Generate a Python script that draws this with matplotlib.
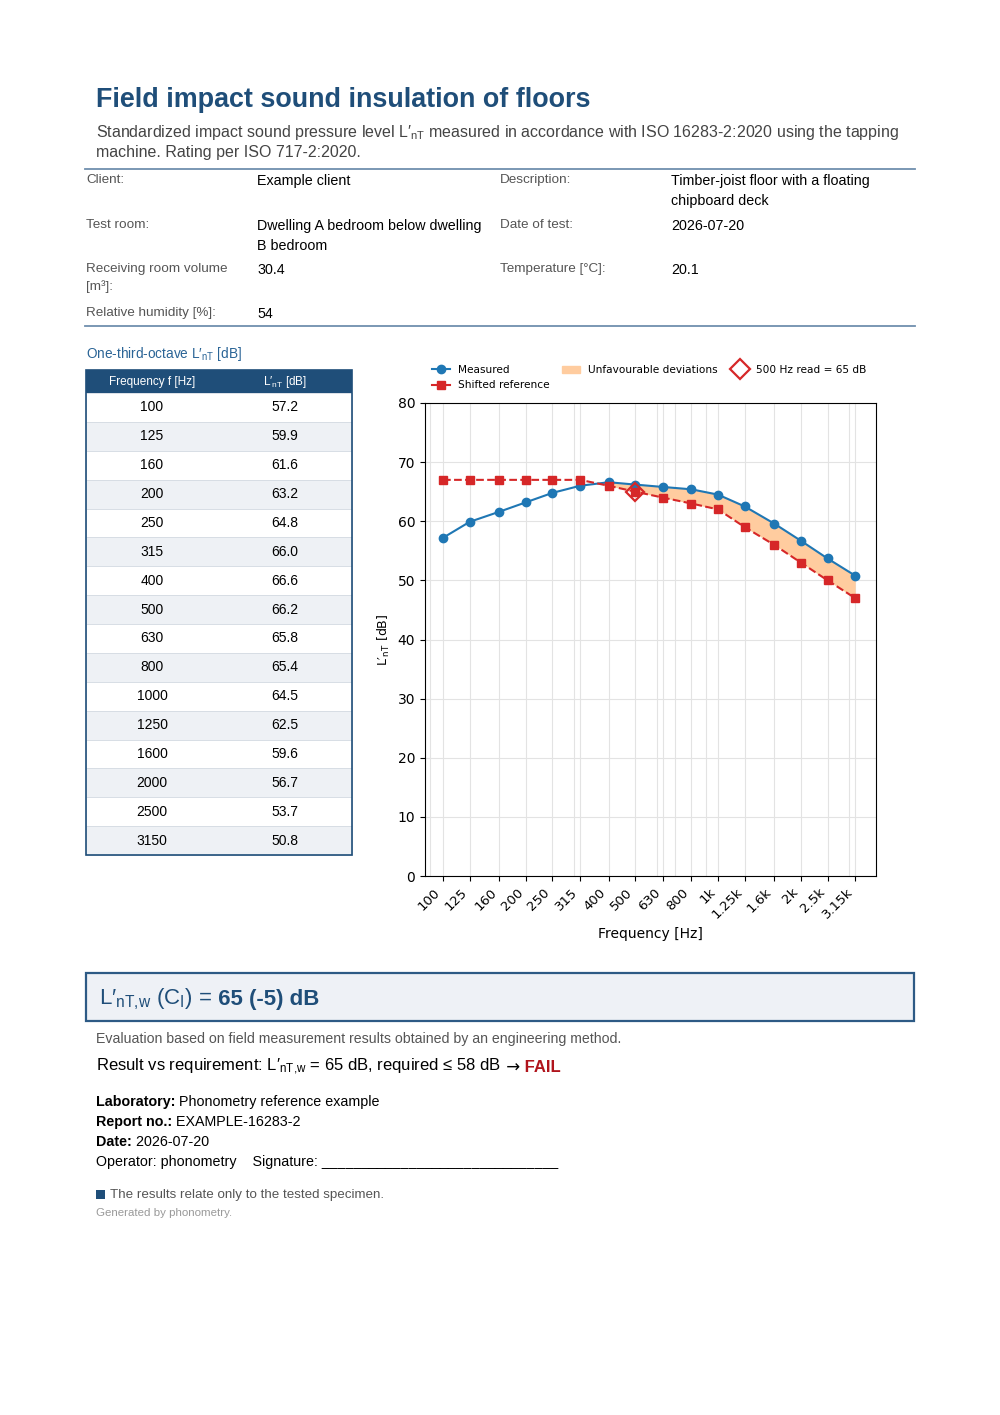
import matplotlib
matplotlib.use("Agg")
import matplotlib.pyplot as plt
from matplotlib.patches import Rectangle
from matplotlib.lines import Line2D
from matplotlib.ticker import NullFormatter

plt.rcParams['mathtext.fontset'] = 'custom'
plt.rcParams['mathtext.rm'] = 'Liberation Sans'
plt.rcParams['mathtext.it'] = 'Liberation Sans:italic'
plt.rcParams['mathtext.bf'] = 'Liberation Sans:bold'

# data
freqs = [100, 125, 160, 200, 250, 315, 400, 500, 630, 800, 1000, 1250, 1600, 2000, 2500, 3150]
freq_labels = ['100', '125', '160', '200', '250', '315', '400', '500', '630', '800',
               '1k', '1.25k', '1.6k', '2k', '2.5k', '3.15k']
measured = [57.2, 59.9, 61.6, 63.2, 64.8, 66.0, 66.6, 66.2, 65.8, 65.4, 64.5, 62.5, 59.6, 56.7, 53.7, 50.8]
shifted_ref = [67, 67, 67, 67, 67, 67, 66, 65, 64, 63, 62, 59, 56, 53, 50, 47]
read_freq = 500
read_value = 65

info_left = [("Client:", "Example client"),
             ("Test room:", "Dwelling A bedroom below dwelling\nB bedroom"),
             ("Receiving room volume\n[m³]:", "30.4"),
             ("Relative humidity [%]:", "54")]
info_right = [("Description:", "Timber-joist floor with a floating\nchipboard deck"),
              ("Date of test:", "2026-07-20"),
              ("Temperature [°C]:", "20.1")]

NAVY = '#1f4e79'
PAGE_FONT = ['Liberation Sans', 'DejaVu Sans']

fig = plt.figure(figsize=(10, 14.15), dpi=100)
page = fig.add_axes([0, 0, 1, 1])
page.set_xlim(0, 1000)
page.set_ylim(1415, 0)
page.axis('off')


def txt(x, y, s, size=10, color='black', weight='normal', **kw):
    fam = kw.pop('family', PAGE_FONT)
    return page.text(x, y, s, fontsize=size, color=color, fontweight=weight,
                     family=fam, va=kw.pop('va', 'center'), **kw)


def chain(x, y, parts, size=10):
    r = fig.canvas.get_renderer()
    for part in parts:
        s, color, weight = part[:3]
        fam = part[3] if len(part) > 3 else PAGE_FONT
        t = txt(x, y, s, size=size, color=color, weight=weight, family=fam)
        x += t.get_window_extent(r).width
    return x


# header
txt(96, 100, "Field impact sound insulation of floors", size=19.4, color=NAVY, weight='bold')
txt(96, 133, "Standardized impact sound pressure level L′$_{\\mathrm{nT}}$ measured in accordance with "
             "ISO 16283-2:2020 using the tapping", size=11.5, color='#444444')
txt(96, 153, "machine. Rating per ISO 717-2:2020.", size=11.5, color='#444444')
page.plot([85, 915], [169, 169], color='#6f8fae', lw=1.3)
page.plot([85, 915], [326, 326], color='#6f8fae', lw=1.3)

row_y = [174, 219, 263, 307]
for (lab, val), y in zip(info_left, row_y):
    txt(86, y, lab, size=9.7, color='#555555', va='top', linespacing=1.55)
    txt(257, y, val, size=10.3, va='top', linespacing=1.5)
for (lab, val), y in zip(info_right, row_y):
    txt(500, y, lab, size=9.7, color='#555555', va='top', linespacing=1.55)
    txt(671, y, val, size=10.3, va='top', linespacing=1.5)

# data table
txt(86, 354, "One-third-octave L′$_{\\mathrm{nT}}$ [dB]", size=9.8, color='#2a6496')
tx0, tx1 = 86, 352
head_top, head_bot = 370, 393
rh = (855 - head_bot) / len(freqs)
page.add_patch(Rectangle((tx0, head_top), tx1 - tx0, head_bot - head_top, color=NAVY, lw=0))
txt(152, 382, "Frequency f [Hz]", size=8.5, color='white', ha='center')
txt(285, 382, "L′$_{\\mathrm{nT}}$ [dB]", size=8.5, color='white', ha='center')
for i, (f, v) in enumerate(zip(freqs, measured)):
    y0 = head_bot + i * rh
    fc = '#eef1f5' if i % 2 else 'white'
    page.add_patch(Rectangle((tx0, y0), tx1 - tx0, rh, facecolor=fc, edgecolor='#d5dbe3', lw=0.6))
    txt(152, y0 + rh / 2, str(f), size=10, ha='center')
    txt(285, y0 + rh / 2, f"{v:.1f}", size=10, ha='center')
page.add_patch(Rectangle((tx0, head_top), tx1 - tx0, 855 - head_top, fill=False, edgecolor=NAVY, lw=1.2))

# chart
ax = fig.add_axes([0.425, 1 - 876 / 1415, 0.451, (876 - 403) / 1415])
ax.set_xscale('log')
ax.fill_between(freqs, shifted_ref, measured, where=[m > r for m, r in zip(measured, shifted_ref)],
                interpolate=True, color='#ffcc9f', lw=0, zorder=1)
ax.plot(freqs, measured, '-o', color='#1f77b4', lw=1.5, ms=6, zorder=3)
ax.plot(freqs, shifted_ref, '--s', color='#d62728', lw=1.5, ms=6, zorder=3)
ax.plot([read_freq], [read_value], 'D', mfc='none', mec='#d62728', mew=1.6, ms=9, zorder=4)
ax.set_xlim(86, 3750)
ax.set_ylim(0, 80)
ax.set_yticks(range(0, 81, 10))
ax.set_xticks(freqs)
ax.set_xticklabels(freq_labels, rotation=45, ha='right', fontsize=9.5)
ax.xaxis.set_minor_formatter(NullFormatter())
ax.tick_params(axis='x', which='minor', length=0)
ax.tick_params(axis='y', labelsize=10)
ax.grid(True, which='both', color='#e3e3e3', lw=0.8)
ax.set_axisbelow(True)
ax.set_xlabel("Frequency [Hz]", fontsize=10)
ax.set_ylabel("L′$_{\\mathrm{nT}}$ [dB]", fontsize=9, math_fontfamily='dejavusans')

handles = [Line2D([], [], color='#1f77b4', marker='o', lw=1.5, ms=6),
           Line2D([], [], color='#d62728', marker='s', lw=1.5, ms=6),
           Rectangle((0, 0), 1, 1, color='#ffcc9f'),
           Line2D([], [], ls='none', marker='D', mfc='none', mec='#d62728', mew=1.6, ms=10)]
labels = ["Measured", "Shifted reference", "Unfavourable deviations", "500 Hz read = 65 dB"]
ax.legend(handles, labels, ncol=3, loc='lower left', bbox_to_anchor=(0.009, 1.02), frameon=False,
          fontsize=7.6, handlelength=1.7, handletextpad=0.75, columnspacing=1.2,
          labelspacing=0.5, borderaxespad=0, borderpad=0.3)

# result box
page.add_patch(Rectangle((86, 973), 828, 48, facecolor='#eef1f6', edgecolor='#2d5a85', lw=1.6))
chain(99, 999, [("L′$_{\\mathrm{nT{,}w}}$ (C$_{\\mathrm{I}}$) =", NAVY, 'normal'),
                (" 65 (-5) dB", NAVY, 'bold')], size=16)
txt(96, 1039, "Evaluation based on field measurement results obtained by an engineering method.",
    size=10.2, color='#555555')
chain(96, 1067, [("Result vs requirement: L′$_{\\mathrm{nT{,}w}}$ = 65 dB, required ≤ 58 dB", 'black', 'normal'),
                 (" →", 'black', 'normal', ['DejaVu Sans']),
                 (" FAIL", '#b0141c', 'bold')], size=12)

# signature block
chain(96, 1102, [("Laboratory:", 'black', 'bold'), (" Phonometry reference example", 'black', 'normal')], size=10.3)
chain(96, 1122, [("Report no.:", 'black', 'bold'), (" EXAMPLE-16283-2", 'black', 'normal')], size=10.3)
chain(96, 1142, [("Date:", 'black', 'bold'), (" 2026-07-20", 'black', 'normal')], size=10.3)
txt(96, 1162, "Operator: phonometry    Signature: ______________________________", size=10.3)

page.add_patch(Rectangle((96, 1190), 9, 9, color=NAVY, lw=0))
txt(110, 1195, "The results relate only to the tested specimen.", size=9.6, color='#555555')
txt(96, 1213, "Generated by phonometry.", size=8.25, color='#999999')

fig.savefig('out.png', dpi=100)
